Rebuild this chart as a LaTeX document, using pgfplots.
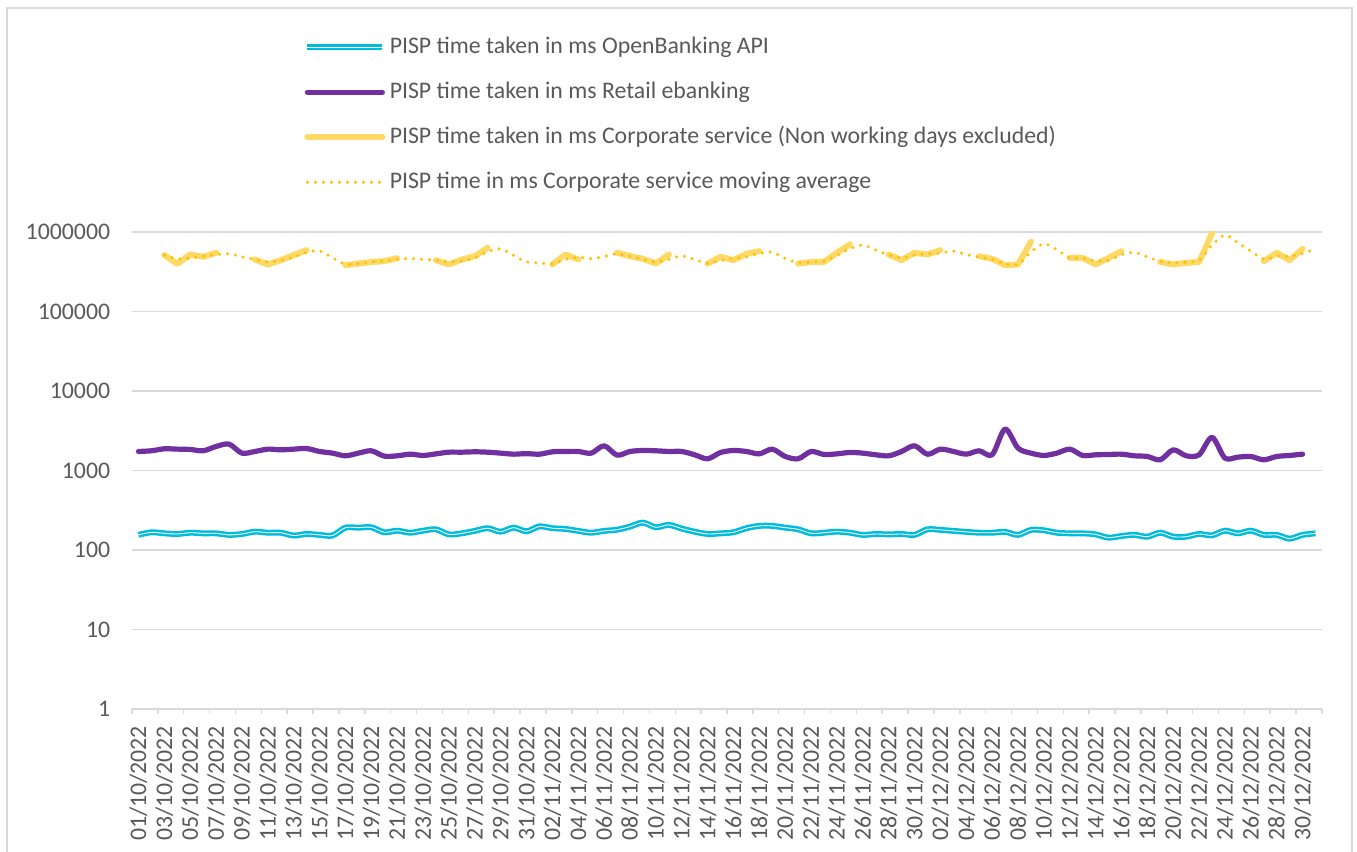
\documentclass[border=0pt]{standalone}
\usepackage{fontspec}
\setmainfont{Carlito}
\usepackage{pgfplots}
\pgfplotsset{compat=1.18}
\usepackage{pgfplotstable}
\definecolor{obcyan}{RGB}{0,188,220}
\definecolor{rpurple}{RGB}{112,48,160}
\definecolor{cyellow}{RGB}{255,217,102}
\definecolor{mgold}{RGB}{255,192,0}
\definecolor{gridgray}{RGB}{217,217,217}
\definecolor{txtgray}{RGB}{89,89,89}
\newcommand{\myfont}{\fontsize{11.9}{14.2}\selectfont}

\pgfplotstableread{
i ob re co ma
0 155 1735 nan nan
1 167 1770 nan nan
2 162 1875 512000 512000
3 159 1857 398000 460000
4 165 1840 521000 469000
5 162 1770 487000 497000
6 162 2006 548000 521000
7 155 2148 nan 531000
8 159 1653 nan 487000
9 170 1735 451000 451000
10 165 1857 390000 421000
11 165 1820 442000 438000
12 152 1855 512000 482000
13 159 1890 592000 553000
14 155 1735 nan 580000
15 152 1653 nan 473000
16 191 1530 382000 394000
17 191 1653 401000 401000
18 193 1770 420000 421000
19 167 1516 430000 434000
20 175 1530 469000 451000
21 165 1605 nan 464000
22 175 1545 nan 451000
23 182 1620 442000 442000
24 157 1700 390000 421000
25 162 1700 451000 430000
26 174 1718 497000 473000
27 188 1700 634000 564000
28 170 1653 nan 615000
29 191 1605 nan 506000
30 172 1630 nan 421000
31 198 1605 nan 409000
32 188 1718 390000 397000
33 184 1735 521000 451000
34 174 1735 451000 482000
35 165 1653 nan 460000
36 174 2046 nan 492000
37 180 1560 548000 531000
38 197 1735 497000 497000
39 221 1785 460000 451000
40 193 1770 401000 421000
41 207 1735 521000 451000
42 186 1735 nan 502000
43 170 1576 nan 451000
44 159 1403 401000 405000
45 162 1686 487000 438000
46 167 1785 442000 464000
47 188 1735 531000 487000
48 201 1620 575000 537000
49 201 1856 nan 558000
50 191 1501 nan 464000
51 182 1403 401000 413000
52 162 1735 420000 417000
53 165 1590 420000 430000
54 170 1620 548000 506000
55 165 1686 698000 615000
56 155 1653 nan 684000
57 159 1576 nan 592000
58 157 1530 521000 516000
59 159 1735 442000 473000
60 155 2046 548000 512000
61 182 1600 521000 531000
62 179 1857 592000 542000
63 174 1735 nan 575000
64 169 1605 nan 521000
65 165 1770 497000 482000
66 165 1576 460000 451000
67 169 3319 382000 397000
68 155 1912 390000 390000
69 179 1653 755000 560000
70 177 1546 nan 712000
71 165 1653 nan 598000
72 162 1857 473000 473000
73 162 1546 473000 469000
74 157 1576 390000 434000
75 143 1590 473000 438000
76 150 1605 575000 516000
77 155 1530 nan 553000
78 147 1501 nan 487000
79 165 1363 420000 425000
80 147 1821 390000 409000
81 147 1530 409000 417000
82 159 1576 420000 442000
83 153 2608 962000 684000
84 175 1430 nan 916000
85 162 1473 nan 733000
86 175 1501 nan 575000
87 155 1363 430000 455000
88 155 1501 548000 497000
89 139 1546 442000 497000
90 155 1605 615000 537000
91 162 nan nan 615000
}\datatable

\begin{document}
\begin{tikzpicture}
\useasboundingbox (0,0) rectangle (678.5pt,426pt);
\draw[gridgray, line width=0.75pt] (3.5pt,422pt) rectangle (676pt,-5pt);
\begin{axis}[
  at={(66pt,71.5pt)}, anchor=south west,
  scale only axis, width=595pt, height=238.5pt,
  xmin=-0.5, xmax=91.5,
  ymode=log, ymin=1, ymax=1000000,
  axis x line*=bottom, axis y line*=left,
  y axis line style={draw=none},
  x axis line style={gridgray, line width=0.75pt},
  ytick={1,10,100,1000,10000,100000,1000000},
  yticklabels={1,10,100,1000,10000,100000,1000000},
  major tick length=0pt,
  minor y tick style={draw=none},
  ytick style={draw=none},
  ymajorgrids, grid style={gridgray, line width=0.75pt},
  xtick={0,2,...,90},
  xticklabels={01/10/2022,03/10/2022,05/10/2022,07/10/2022,09/10/2022,11/10/2022,13/10/2022,15/10/2022,17/10/2022,19/10/2022,21/10/2022,23/10/2022,25/10/2022,27/10/2022,29/10/2022,31/10/2022,02/11/2022,04/11/2022,06/11/2022,08/11/2022,10/11/2022,12/11/2022,14/11/2022,16/11/2022,18/11/2022,20/11/2022,22/11/2022,24/11/2022,26/11/2022,28/11/2022,30/11/2022,02/12/2022,04/12/2022,06/12/2022,08/12/2022,10/12/2022,12/12/2022,14/12/2022,16/12/2022,18/12/2022,20/12/2022,22/12/2022,24/12/2022,26/12/2022,28/12/2022,30/12/2022},
  major x tick style={draw=none},
  minor xtick={-0.5,1.5,...,91.5},
  minor x tick style={gridgray, line width=0.75pt},
  tick align=outside, minor tick length=2.5pt,
  xticklabel style={rotate=90, anchor=east, text=txtgray, font=\myfont, xshift=-5pt},
  yticklabel style={anchor=east, text=txtgray, font=\myfont, xshift=-7.4pt},
  /pgf/number format/assume math mode=true,
  legend cell align=left,
  legend image code/.code={\draw[#1] (0pt,0pt) -- (37.5pt,0pt);},
  legend style={at={(0.1445,1.410)}, anchor=north west, draw=none, fill=none,
    inner sep=0pt, row sep=12pt, column sep=2.2pt, font=\myfont, text=txtgray,
    nodes={inner sep=0pt, text height=8.5pt, text depth=2pt}},
]
\addplot[obcyan, line width=1.25pt, double=white, double distance=0.45pt, smooth, tension=0.5] table[x=i, y=ob] {\datatable};
\addlegendentry{PISP time taken in ms OpenBanking API}
\addplot[rpurple, line width=2.6pt, smooth, tension=0.5, line cap=round, line join=round] table[x=i, y=re] {\datatable};
\addlegendentry{PISP time taken in ms Retail ebanking}
\addplot[cyellow, line width=3pt, line cap=round, line join=round, unbounded coords=jump] table[x=i, y=co] {\datatable};
\addlegendentry{PISP time taken in ms Corporate service (Non working days excluded)}
\addplot[mgold, line width=1.7pt, line cap=round, dash pattern=on 0pt off 4pt, smooth, tension=0.5] table[x=i, y=ma] {\datatable};
\addlegendentry{PISP time in ms Corporate service moving average}
\end{axis}
\end{tikzpicture}
\end{document}
